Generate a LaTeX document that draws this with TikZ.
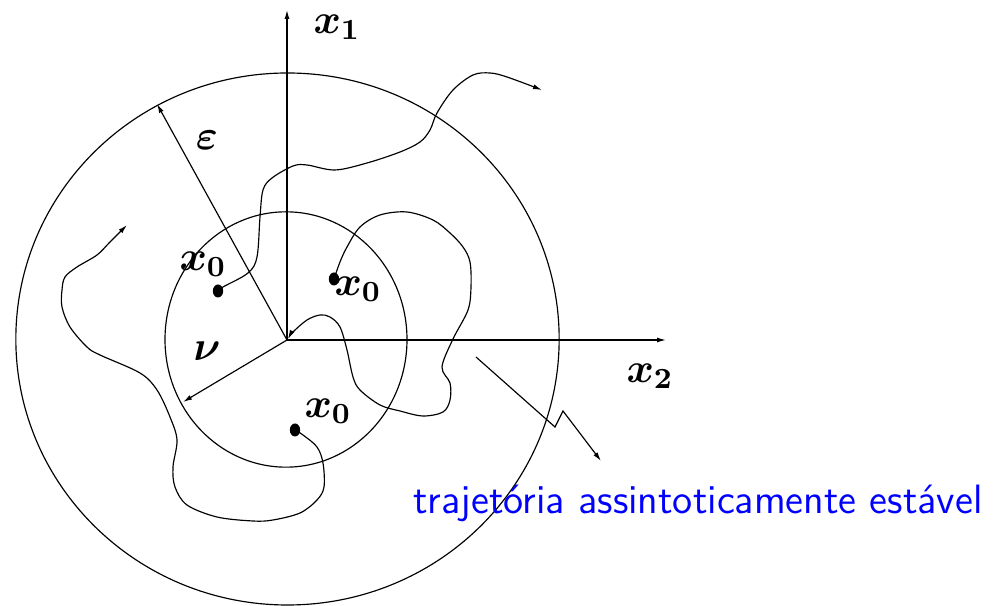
\documentclass[tikz,border=0pt]{standalone}
\RequirePackage{fix-cm}
\usepackage{fontspec}
\usepackage{amsmath,bm}
\usetikzlibrary{arrows.meta}
\begin{document}
\begin{tikzpicture}[x=0.3pt,y=-0.3pt,
  line width=0.35pt,
  arr/.style={-{Latex[length=2.7pt,width=1.5pt]}},
  lbl/.style={inner sep=0pt,font=\fontsize{12.5}{14}\selectfont},
  traj/.style={smooth,tension=0.55},
  note/.style={inner sep=0pt,text=blue,font=\sffamily\fontsize{12.3}{14}\selectfont}]
\useasboundingbox (0,0) rectangle (995,606);
% centres
\coordinate (O) at (287,340);
\coordinate (Cout) at (287.5,339);
\coordinate (Cin) at (286,339.5);
\coordinate (ytip) at (287,10);
\coordinate (xtip) at (666,340);
\coordinate (eps) at (157,104);
\coordinate (nu) at (183,402);
% circles
\draw (Cout) ellipse [x radius=81.5pt, y radius=79.8pt];
\draw (Cin) ellipse [x radius=36.3pt, y radius=38.3pt];
% axes
\draw[arr] (O) -- (ytip);
\draw[arr] (O) -- (xtip);
% radii
\draw[arr] (O) -- (eps);
\draw[arr] (O) -- (nu);
% initial points
\coordinate (d1) at (218,291);
\coordinate (d2) at (334,279);
\coordinate (d3) at (295,430);
\foreach \d in {d1,d2,d3}{\fill (\d) ellipse [x radius=1.55pt, y radius=1.95pt];}
% trajectory leaving
\draw[arr] plot[traj] coordinates {(218,291) (223,287) (248,273) (257,257) (260,217) (263,190) (272,178) (293,166) (307,165) (335,170) (367,163) (400,152) (420,142) (430,130) (437,113) (453,90) (473,75) (490,73) (507,77) (542,90)};
% asymptotically stable trajectory
\draw[arr] plot[traj] coordinates {(334,279) (340,262) (347,247) (360,227) (380,215) (407,212) (433,220) (450,233) (463,247) (470,262) (471,287) (468,310) (453,339) (442,367) (450,383) (450,400) (443,412) (423,416) (400,411) (380,405) (360,390) (353,377) (347,350) (340,327) (330,317) (320,315) (307,320) (293,332) (288,339)};
% stable trajectory
\draw[arr] plot[traj] coordinates {(295,430) (303,435) (317,447) (323,463) (324,487) (317,500) (300,513) (273,520) (253,521) (217,517) (187,505) (175,487) (173,467) (177,440) (170,417) (157,390) (140,373) (100,355) (87,347) (70,327) (62,307) (62,290) (65,277) (77,267) (97,255) (110,242) (127,225)};
% zigzag arrow
\coordinate (z0) at (476,357);
\coordinate (z1) at (555,427);
\coordinate (z2) at (563,411);
\coordinate (z3) at (601,461);
\draw[arr] (z0) -- (z1) -- (z2) -- (z3);
% labels
\node[lbl] (lx1) at (337,27) {$\bm{x_1}$};
\node[lbl] (lx2) at (650,376) {$\bm{x_2}$};
\node[lbl] (leps) at (207,140) {$\bm{\varepsilon}$};
\node[lbl] (lnu) at (207,351) {$\bm{\nu}$};
\node[lbl] (la) at (203,264) {$\bm{x_0}$};
\node[lbl] (lb) at (358,289) {$\bm{x_0}$};
\node[lbl] (lc) at (328,411) {$\bm{x_0}$};
\node[note] (lt) at (698,503) {trajetória assintoticamente estável};
\end{tikzpicture}
\end{document}
